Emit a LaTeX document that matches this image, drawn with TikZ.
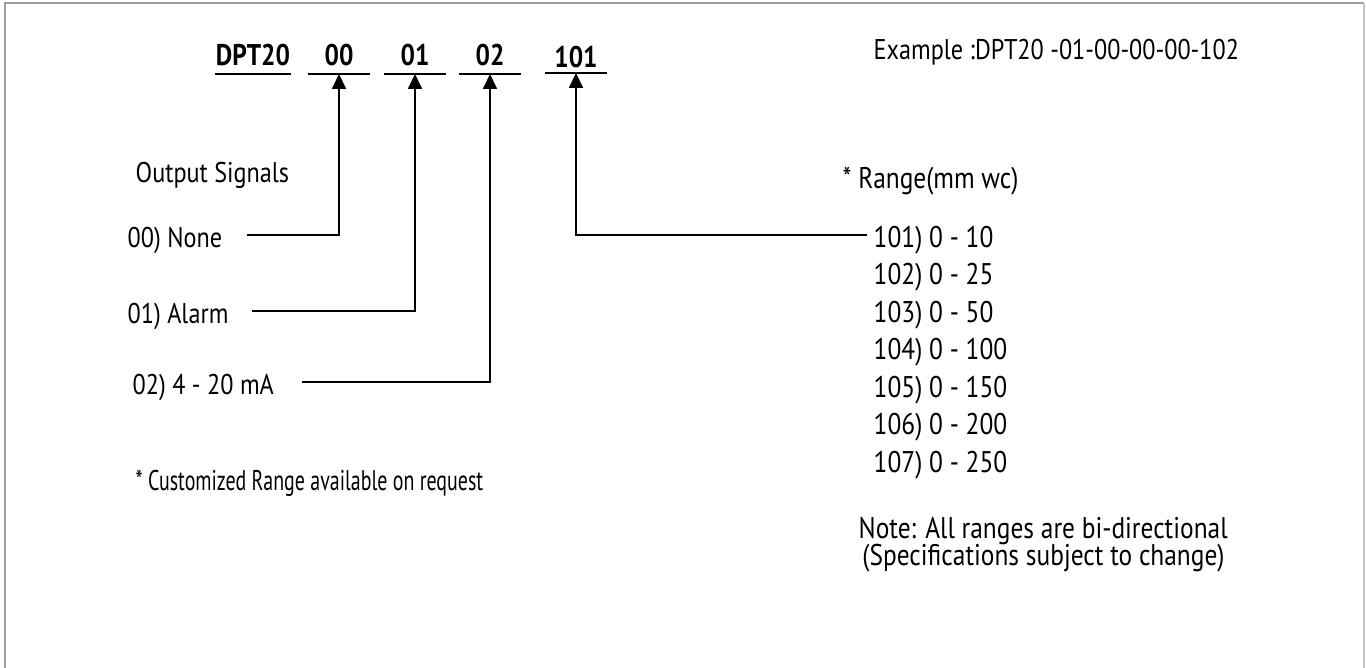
\documentclass[tikz,border=0pt]{standalone}
\usepackage{fontspec}
\setmainfont[FakeStretch=0.85]{PT Sans}
\newfontfamily\narrowfont[FakeStretch=0.7]{PT Sans}
\usetikzlibrary{arrows.meta,positioning}

\begin{document}
\begin{tikzpicture}[
  x=0.01cm, y=-0.01cm,
  txt/.style={inner sep=0pt, anchor=west, text height=0.7em, text depth=0pt,
              font=\fontsize{8.1}{10}\selectfont},
  bigtxt/.style={txt, font=\fontsize{8.5}{10}\selectfont},
  code/.style={inner xsep=0pt, inner ysep=0.075cm, anchor=south,
               minimum width=0.6cm, text height=0.7em, text depth=0pt,
               font=\fontsize{8.5}{10}\selectfont\bfseries},
  uline/.style={draw, line width=0.5pt},
  link/.style={draw, line width=0.5pt, -{Triangle[length=0.15cm,width=0.14cm]}},
  frame/.style={line width=0.6pt},
]
  \useasboundingbox (0,0) rectangle (1366,668);

  % frame (open at the bottom)
  \draw[frame, gray!75] (5,668) -- (5,3) -- (1364,3);
  \draw[frame, gray!45] (1364,3) -- (1364,668);

  % order code
  \node[code] (dpt) at (253,74) {DPT20};
  \node[code] (c00) at (339,74) {00};
  \node[code] (c01) at (415,74) {01};
  \node[code] (c02) at (490,74) {02};
  \node[code, inner ysep=0.05cm] (c101) at (576,73) {101};
  \foreach \c in {dpt,c00,c01,c02,c101}
    \draw[uline] (\c.south west) -- (\c.south east);

  \node[txt] (example) at (873,47) {Example :DPT20 -01-00-00-00-102};

  % output signals
  \node[txt] (outhdr) at (135,170) {Output Signals};
  \node[txt] (none) at (127,235) {00) None};
  \node[txt] (alarm) at (127,311) {01) Alarm};
  \node[txt] (ma) at (132,382) {02) 4 - 20 mA};
  \node[txt, font=\fontsize{8.1}{10}\narrowfont] (custom) at (135,478)
       {* Customized Range available on request};

  \draw[link, shorten <=0.24cm] (none.east) -| (c00.south);
  \draw[link, shorten <=0.23cm] (alarm.east) -| (c01.south);
  \draw[link, shorten <=0.27cm] (ma.east) -| (c02.south);

  % range
  \node[bigtxt] (rhdr) at (842,176) {* Range(mm wc)};
  \foreach \n/\v [count=\i from 0] in {101/10,102/25,103/50,104/100,105/150,106/200,107/250}
    \node[bigtxt] (r\n) at (873,{235+37.5*\i}) {\n) 0 - \v};

  \draw[link, shorten <=0.06cm] (r101.west) -| (c101.south);

  \node[bigtxt] (note) at (858,526) {Note: All ranges are bi-directional};
  \node[bigtxt] (spec) at (855,553) {\ (Specifications subject to change)};
\end{tikzpicture}
\end{document}
